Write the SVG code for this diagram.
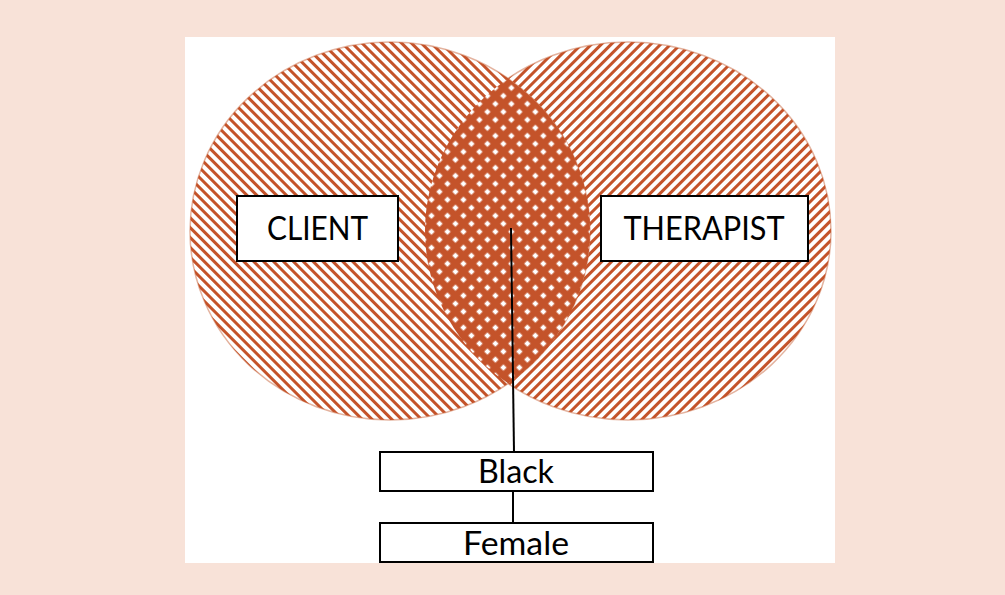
<svg xmlns="http://www.w3.org/2000/svg" width="1005" height="595" viewBox="0 0 1005 595">
  <defs>
    <style>
      .box { fill: #ffffff; stroke: #000000; stroke-width: 2; }
      .lbl { font-family: Lato, "Open Sans", "Liberation Sans", sans-serif; font-size: 32px; fill: #000000; text-anchor: middle; }
      .conn { stroke: #000000; stroke-width: 2; fill: none; }
      .edge { fill: none; stroke: #C4562A; stroke-opacity: 0.45; stroke-width: 1.5; }
    </style>
    <pattern id="hatchL" patternUnits="userSpaceOnUse" width="7" height="7" patternTransform="rotate(-45)">
      <rect x="0" y="0" width="7" height="7" fill="#ffffff"/>
      <rect x="0" y="0" width="3" height="7" fill="#C4532A"/>
    </pattern>
    <pattern id="hatchR" patternUnits="userSpaceOnUse" width="7" height="7" patternTransform="rotate(45)">
      <rect x="0" y="0" width="7" height="7" fill="#ffffff"/>
      <rect x="0" y="0" width="3" height="7" fill="#C4532A"/>
    </pattern>
    <pattern id="cross" patternUnits="userSpaceOnUse" width="11.3" height="11.3" patternTransform="rotate(45)">
      <rect x="0" y="0" width="11.3" height="11.3" fill="#C4532A"/>
      <rect x="3.4" y="3.4" width="4.5" height="4.5" fill="#ffffff"/>
    </pattern>
    <clipPath id="clipL">
      <ellipse cx="390" cy="231" rx="200" ry="189"/>
    </clipPath>
  </defs>

  <rect x="0" y="0" width="1005" height="595" fill="#F8E2D8"/>
  <rect x="185" y="37" width="650" height="526" fill="#ffffff"/>

  <g id="therapist-circle">
    <ellipse cx="628" cy="231" rx="203" ry="189" fill="url(#hatchR)"/>
    <ellipse class="edge" cx="628" cy="231" rx="203" ry="189"/>
  </g>
  <g id="client-circle">
    <ellipse cx="390" cy="231" rx="200" ry="189" fill="url(#hatchL)"/>
    <ellipse class="edge" cx="390" cy="231" rx="200" ry="189"/>
  </g>
  <g id="overlap">
    <ellipse cx="628" cy="231" rx="203" ry="189" fill="url(#cross)" clip-path="url(#clipL)"/>
  </g>

  <g id="connectors">
    <line class="conn" x1="511" y1="228" x2="514" y2="452"/>
    <line class="conn" x1="513" y1="491" x2="513" y2="523"/>
  </g>

  <g id="client">
    <rect class="box" x="237" y="196" width="161" height="65"/>
    <text class="lbl" x="317.5" y="240" textLength="101" lengthAdjust="spacingAndGlyphs">CLIENT</text>
  </g>
  <g id="therapist">
    <rect class="box" x="601" y="196" width="207" height="65"/>
    <text class="lbl" x="704" y="240" textLength="161" lengthAdjust="spacingAndGlyphs">THERAPIST</text>
  </g>
  <g id="black">
    <rect class="box" x="380" y="452" width="273" height="39"/>
    <text class="lbl" x="516" y="483" textLength="76" lengthAdjust="spacingAndGlyphs">Black</text>
  </g>
  <g id="female">
    <rect class="box" x="380" y="523" width="273" height="39"/>
    <text class="lbl" x="516" y="555" textLength="106" lengthAdjust="spacingAndGlyphs">Female</text>
  </g>
</svg>
